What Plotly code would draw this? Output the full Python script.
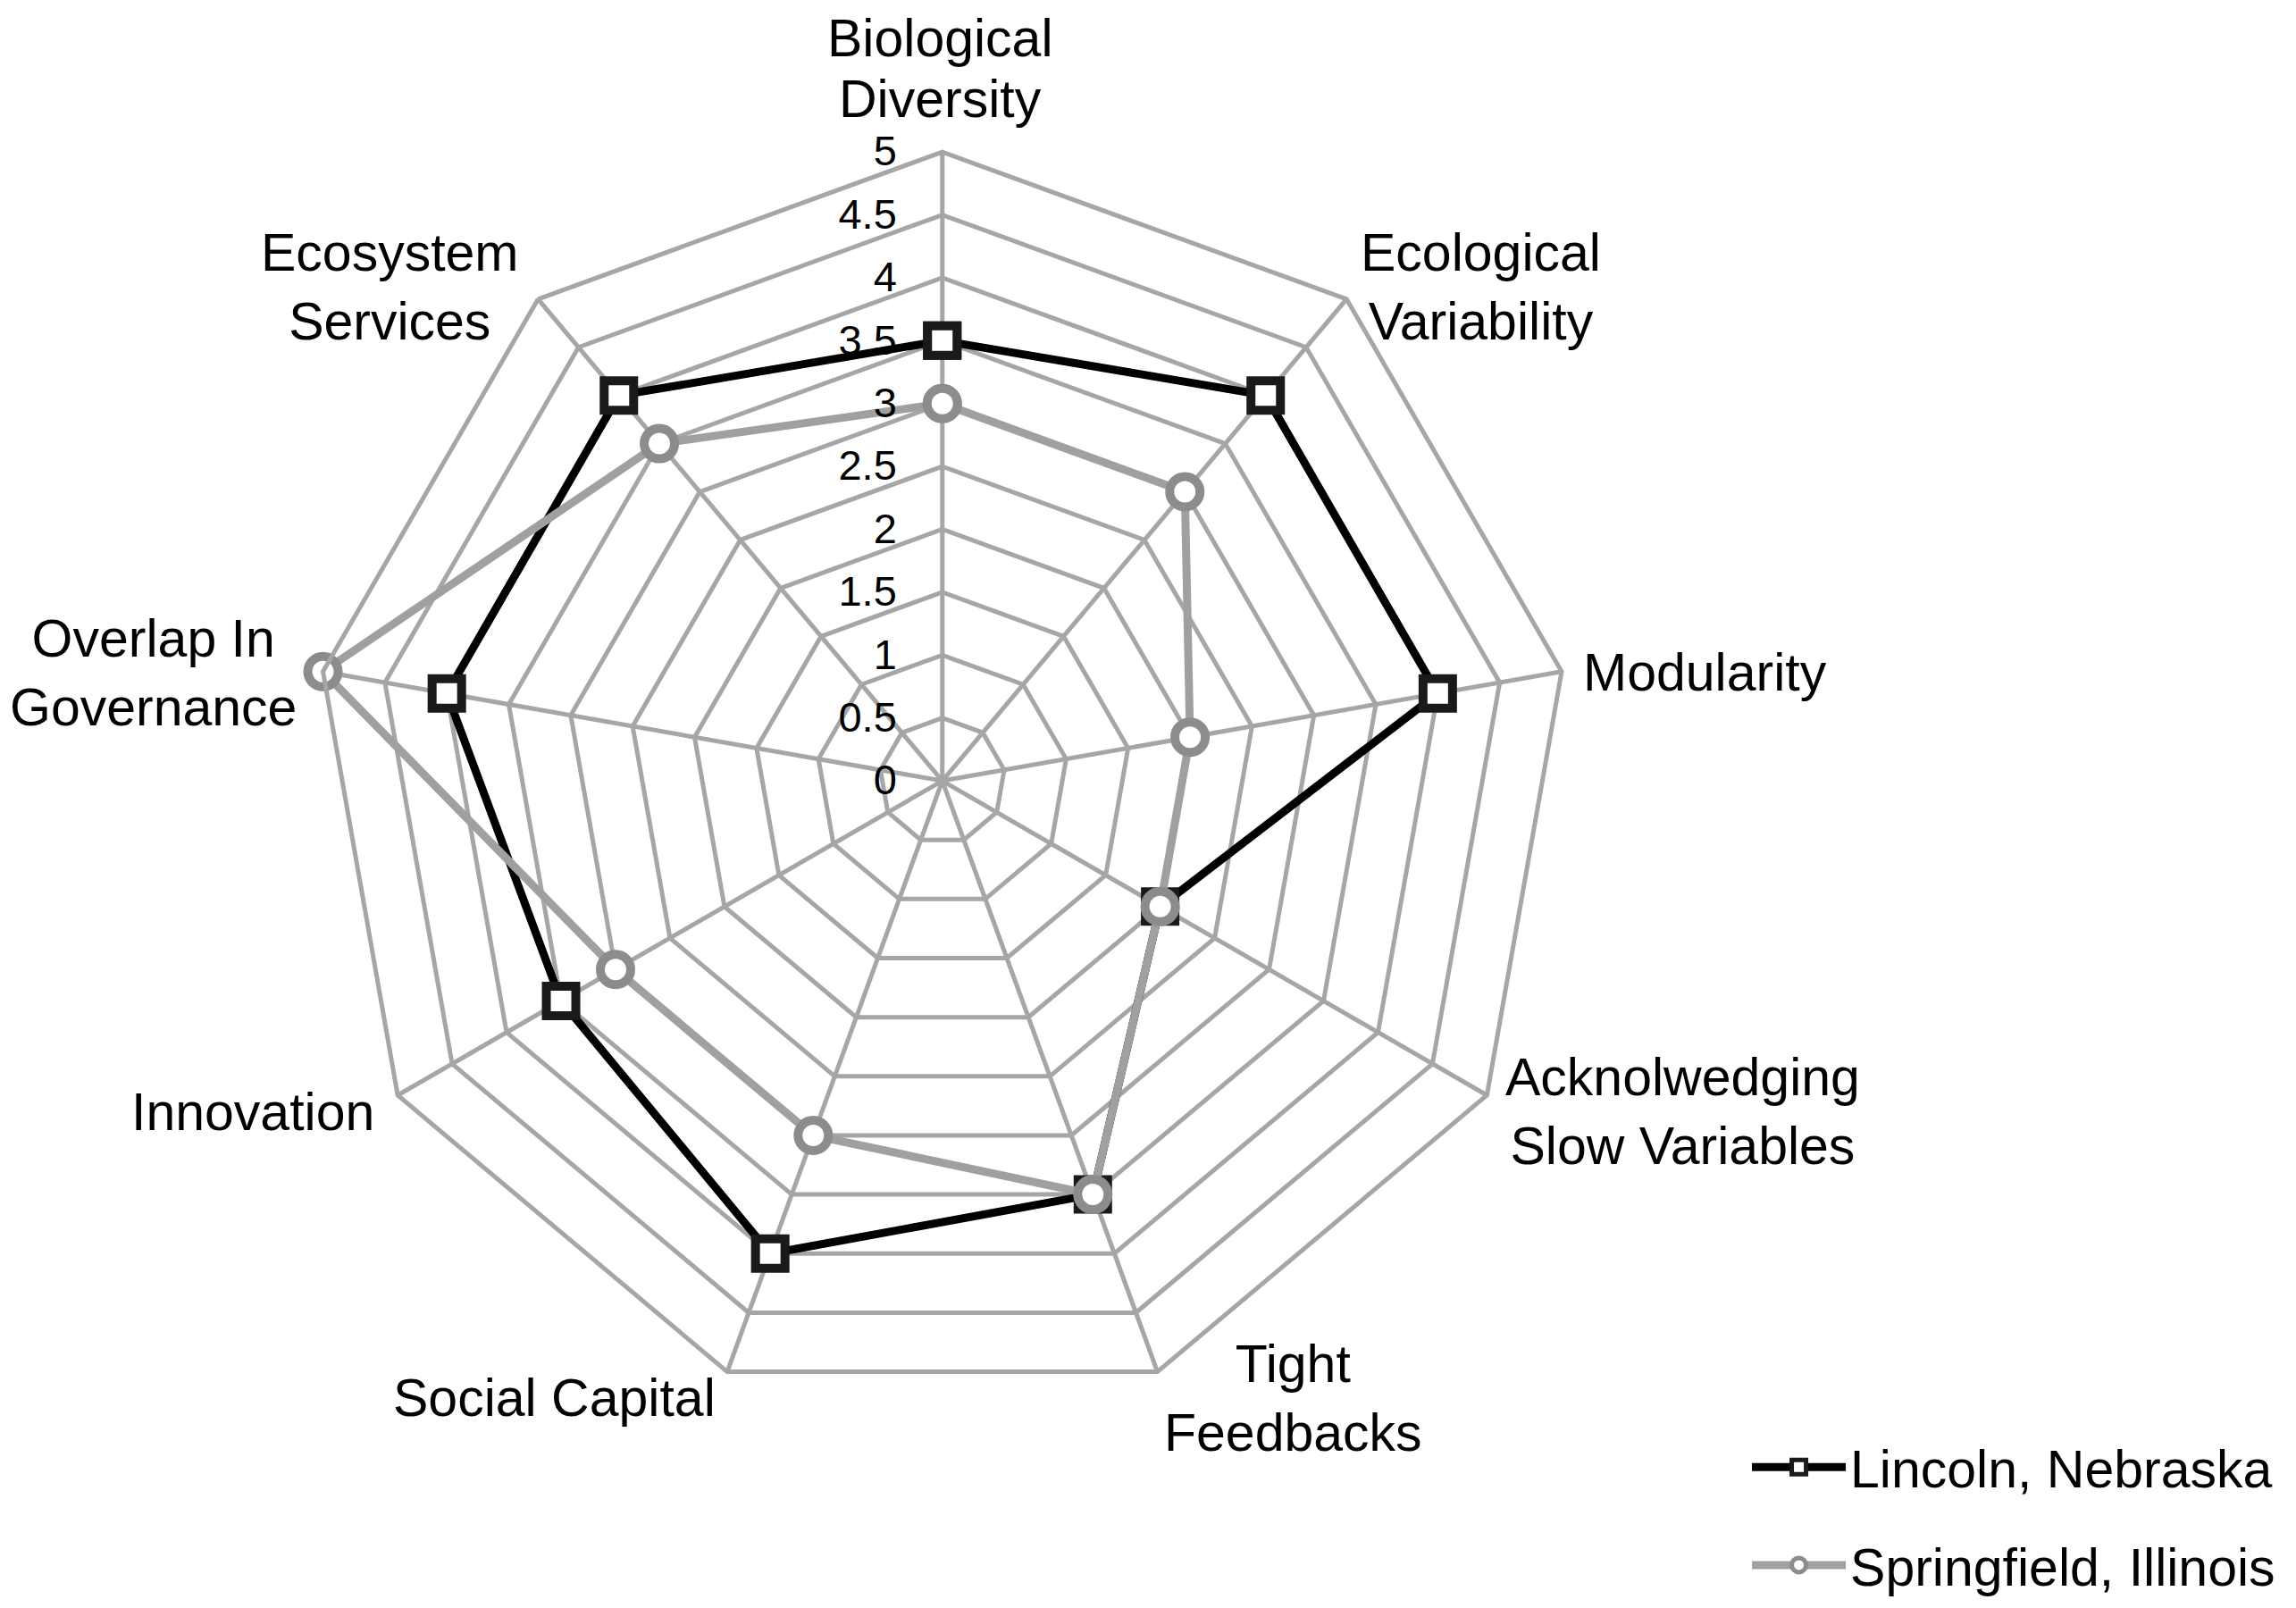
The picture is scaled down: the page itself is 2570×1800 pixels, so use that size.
import math
import plotly.graph_objects as go

categories = ["Biological Diversity", "Ecological Variability", "Modularity",
              "Acknolwedging Slow Variables", "Tight Feedbacks", "Social Capital",
              "Innovation", "Overlap In Governance", "Ecosystem Services"]
category_labels = ["Biological<br>Diversity", "Ecological<br>Variability", "Modularity",
                   "Acknolwedging<br>Slow Variables", "Tight<br>Feedbacks", "Social Capital",
                   "Innovation", "Overlap In<br>Governance", "Ecosystem<br>Services"]
lincoln = [3.5, 4, 4, 2, 3.5, 4, 3.5, 4, 4]
springfield = [3, 3, 2, 2, 3.5, 3, 3, 5, 3.5]
radial_ticks = [0, 0.5, 1, 1.5, 2, 2.5, 3, 3.5, 4, 4.5, 5]

GRID = "#a6a6a6"
FONT = "Liberation Sans, Arial, sans-serif"
LABEL_SIZE = 59
LINE_H = 69
W, H = 2570, 1800
# rendered polar geometry (pixels) used to place the category labels
CX, CY, R, PAD = 1044, 872, 704, 25
TOP_PAD = 30

def closed(v):
    return list(v) + [v[0]]

fig = go.Figure()
fig.add_trace(go.Scatterpolar(
    r=closed(lincoln), theta=closed(categories), name="Lincoln, Nebraska",
    mode="lines+markers", legendgroup="a",
    line=dict(color="black", width=9),
    marker=dict(symbol="square", size=33, color="white", line=dict(color="#1a1a1a", width=10)),
))
fig.add_trace(go.Scatterpolar(
    r=closed(springfield), theta=closed(categories), name="Springfield, Illinois",
    mode="lines+markers", legendgroup="b",
    line=dict(color="#a0a0a0", width=9),
    marker=dict(symbol="circle", size=34, color="white", line=dict(color="#8c8c8c", width=10)),
))

# category labels placed Excel-style just outside each outer vertex
n = len(categories)
for i, lab in enumerate(category_labels):
    a = math.radians(360.0 * i / n)
    s, c = math.sin(a), math.cos(a)
    if abs(s) < 0.2:
        px = CX + (R + TOP_PAD) * s
        py = CY - (R + TOP_PAD) * c
        lines = lab.split("<br>")
        m = len(lines)
        for k, ln in enumerate(lines):
            if c > 0:
                yc = py - (m - 1 - k) * LINE_H - LINE_H / 2
            else:
                yc = py + k * LINE_H + LINE_H / 2
            fig.add_annotation(
                x=px / W, y=1 - yc / H, xref="paper", yref="paper",
                text=ln, showarrow=False, xanchor="center", yanchor="middle",
                font=dict(size=LABEL_SIZE, family=FONT, color="black"),
            )
    else:
        px = CX + (R + PAD) * s
        py = CY - (R + PAD) * c
        xa = "left" if s > 0 else "right"
        fig.add_annotation(
            x=px / W, y=1 - py / H, xref="paper", yref="paper",
            text=lab, showarrow=False, xanchor=xa, yanchor="middle", align="center",
            font=dict(size=LABEL_SIZE, family=FONT, color="black"),
        )

fig.update_layout(
    width=W, height=H,
    paper_bgcolor="white", plot_bgcolor="white",
    margin=dict(l=0, r=0, t=0, b=0),
    font=dict(family=FONT, color="black", size=LABEL_SIZE),
    polar=dict(
        domain=dict(x=[0.1334, 0.6812], y=[0.1277, 0.91]),
        gridshape="linear",
        bgcolor="white",
        angularaxis=dict(
            direction="clockwise", rotation=90,
            showline=True, linecolor=GRID, linewidth=5,
            gridcolor=GRID, gridwidth=5,
            ticks="", showticklabels=False,
        ),
        radialaxis=dict(
            range=[0, 5], tickvals=radial_ticks, ticktext=[str(t) for t in radial_ticks],
            angle=90, tickangle=90, side="counterclockwise",
            showline=False, ticks="outside", ticklen=34, tickcolor="rgba(0,0,0,0)",
            gridcolor=GRID, gridwidth=5,
            tickfont=dict(size=47, family=FONT, color="black"),
        ),
    ),
    showlegend=True,
    legend=dict(
        x=0.758, y=0.117, xanchor="left", yanchor="top",
        font=dict(size=LABEL_SIZE, family=FONT, color="black"),
        traceorder="grouped", tracegroupgap=30,
        itemwidth=105, bgcolor="rgba(0,0,0,0)",
    ),
)

fig.write_html("out.html")
